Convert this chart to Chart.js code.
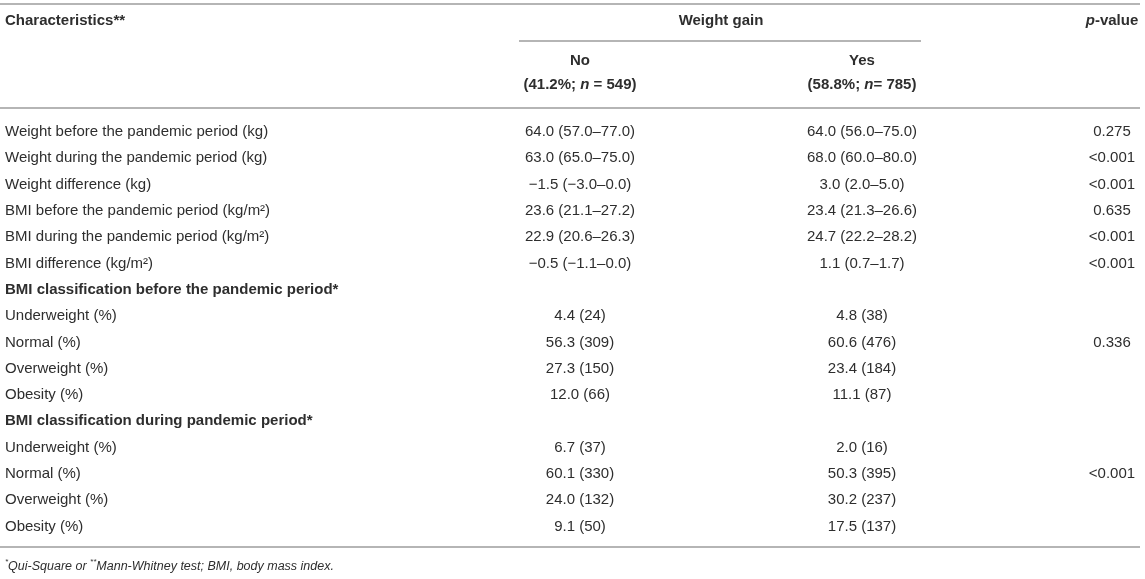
<!DOCTYPE html>
<html>
<head>
<meta charset="utf-8">
<script src="https://cdn.jsdelivr.net/npm/chart.js@4.4.1/dist/chart.umd.min.js"></script>
<style>
html,body{margin:0;padding:0;background:#fff}
</style>
</head>
<body>
<canvas id="chart" width="1145" height="579"></canvas>
<script>
// table rows (first column is drawn as the y axis tick labels)
const rowLabels=[
"Weight before the pandemic period (kg)",
"Weight during the pandemic period (kg)",
"Weight difference (kg)",
"BMI before the pandemic period (kg/m²)",
"BMI during the pandemic period (kg/m²)",
"BMI difference (kg/m²)",
"BMI classification before the pandemic period*",
"Underweight (%)",
"Normal (%)",
"Overweight (%)",
"Obesity (%)",
"BMI classification during pandemic period*",
"Underweight (%)",
"Normal (%)",
"Overweight (%)",
"Obesity (%)"
];
const sectionRows=[6,11];

const noValues=[
"64.0 (57.0–77.0)","63.0 (65.0–75.0)","−1.5 (−3.0–0.0)","23.6 (21.1–27.2)",
"22.9 (20.6–26.3)","−0.5 (−1.1–0.0)","",
"4.4 (24)","56.3 (309)","27.3 (150)","12.0 (66)","",
"6.7 (37)","60.1 (330)","24.0 (132)","9.1 (50)"
];
const yesValues=[
"64.0 (56.0–75.0)","68.0 (60.0–80.0)","3.0 (2.0–5.0)","23.4 (21.3–26.6)",
"24.7 (22.2–28.2)","1.1 (0.7–1.7)","",
"4.8 (38)","60.6 (476)","23.4 (184)","11.1 (87)","",
"2.0 (16)","50.3 (395)","30.2 (237)","17.5 (137)"
];
const pValues=[
"0.275","<0.001","<0.001","0.635","<0.001","<0.001","",
"","0.336","","","",
"","<0.001","",""
];

const headerGroup="Weight gain";
const headerNo=["No",[["(41.2%; ",0],["n",1],[" = 549)",0]]];
const headerYes=["Yes",[["(58.8%; ",0],["n",1],["= 785)",0]]];

const FONT="'Liberation Sans', Arial, Helvetica, sans-serif";
const SIZE=15;
const TXT="#2e2e2e";
const RULE="#b5b5b5";
// column anchors in x-scale units
const colNo=580, colYes=862, colP=1112;

function makeSet(vals,x){
return {data:vals.map((v,i)=>({x:x,y:i})),cells:vals,pointRadius:0,pointHoverRadius:0};
}

function richWidth(ctx,segs,size,weight){
let w=0;
segs.forEach(s=>{ctx.font=(s[1]?"italic ":"")+weight+" "+size+"px "+FONT;w+=ctx.measureText(s[0]).width;});
return w;
}
function drawRich(ctx,segs,x,y,size,weight,align){
let w=richWidth(ctx,segs,size,weight);
let cx=align==="center"?x-w/2:x;
ctx.textAlign="left";
segs.forEach(s=>{
ctx.font=(s[1]?"italic ":"")+weight+" "+size+"px "+FONT;
ctx.fillText(s[0],cx,y);
cx+=ctx.measureText(s[0]).width;
});
}

const tablePlugin={
id:"tableText",
afterDatasetsDraw(chart){
const ctx=chart.ctx;
ctx.save();
ctx.fillStyle=TXT;
ctx.textAlign="center";
ctx.textBaseline="middle";
ctx.font=SIZE+"px "+FONT;
chart.data.datasets.forEach((ds,d)=>{
chart.getDatasetMeta(d).data.forEach((pt,i)=>{
if(ds.cells[i]) ctx.fillText(ds.cells[i],pt.x,pt.y);
});
});
ctx.restore();
},
afterDraw(chart){
const ctx=chart.ctx,xs=chart.scales.x;
const xNo=xs.getPixelForValue(colNo),xYes=xs.getPixelForValue(colYes),xP=xs.getPixelForValue(colP);
ctx.save();
// rules
ctx.strokeStyle=RULE;
ctx.lineWidth=2;
[[0,1140,4],[519,921,41],[0,1140,108],[0,1140,547]].forEach(l=>{
ctx.beginPath();ctx.moveTo(l[0],l[2]);ctx.lineTo(l[1],l[2]);ctx.stroke();
});
ctx.fillStyle=TXT;
ctx.textBaseline="middle";
// header
ctx.font="bold "+SIZE+"px "+FONT;
ctx.textAlign="left";
ctx.fillText("Characteristics**",5,21);
ctx.textAlign="center";
ctx.fillText(headerGroup,(xNo+xYes)/2,21);
ctx.fillText(headerNo[0],xNo,61);
ctx.fillText(headerYes[0],xYes,61);
drawRich(ctx,headerNo[1],xNo,85,SIZE,"bold","center");
drawRich(ctx,headerYes[1],xYes,85,SIZE,"bold","center");
drawRich(ctx,[["p",1],["-value",0]],xP,21,SIZE,"bold","center");
// footnote
ctx.font="italic 8px "+FONT;
ctx.textAlign="left";
let fx=5;
ctx.fillText("*",fx,562);fx+=ctx.measureText("*").width;
ctx.font="italic 12.5px "+FONT;
ctx.fillText("Qui-Square or ",fx,567);fx+=ctx.measureText("Qui-Square or ").width;
ctx.font="italic 8px "+FONT;
ctx.fillText("**",fx,562);fx+=ctx.measureText("**").width;
ctx.font="italic 12.5px "+FONT;
ctx.fillText("Mann-Whitney test; BMI, body mass index.",fx,567);
ctx.restore();
}
};

const ctx=document.getElementById("chart").getContext("2d");
const chart=new Chart(ctx,{
type:"scatter",
data:{datasets:[makeSet(noValues,colNo),makeSet(yesValues,colYes),makeSet(pValues,colP)]},
options:{
responsive:false,
animation:false,
events:[],
layout:{padding:{left:0,right:0,top:132,bottom:52.5}},
plugins:{legend:{display:false},tooltip:{enabled:false}},
scales:{
x:{type:"linear",display:false,min:0,max:1145},
y:{
type:"category",
labels:rowLabels,
offset:false,
grid:{display:false,drawTicks:false},
border:{display:false},
afterFit(s){s.width=0;},
ticks:{
autoSkip:false,
mirror:true,
crossAlign:"near",
padding:5,
color:TXT,
font:c=>({family:FONT,size:SIZE,weight:sectionRows.includes(c.index)?"bold":"normal"})
}
}
}
},
plugins:[tablePlugin]
});
</script>
</body>
</html>
